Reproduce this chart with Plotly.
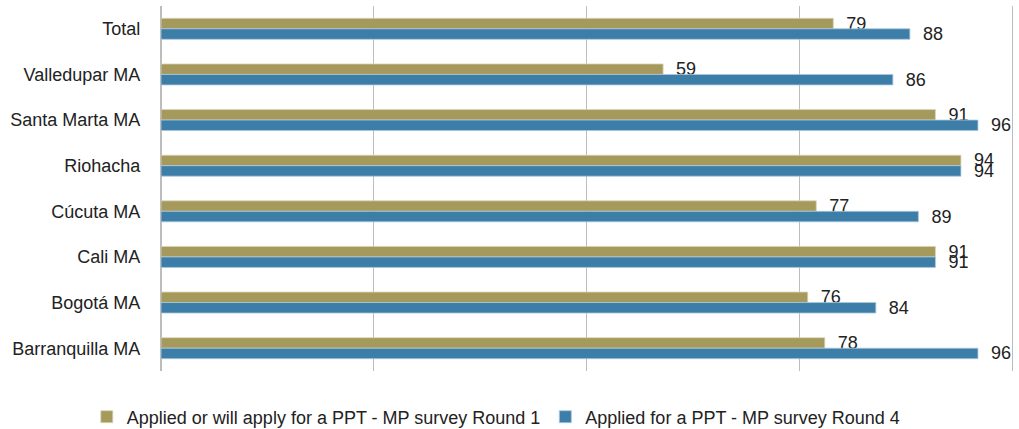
import plotly.graph_objects as go

# categories listed top to bottom
areas = [
    "Total",
    "Valledupar MA",
    "Santa Marta MA",
    "Riohacha",
    "Cúcuta MA",
    "Cali MA",
    "Bogotá MA",
    "Barranquilla MA",
]
round_1 = [79, 59, 91, 94, 77, 91, 76, 78]
round_4 = [88, 86, 96, 94, 89, 91, 84, 96]

names = [
    "Applied or will apply for a PPT - MP survey Round 1",
    "Applied for a PPT - MP survey Round 4",
]
colors = ["#A59A5C", "#3C7EA8"]
edge_colors = ["#D9D3B8", "#A9C8DC"]

font_family = "Liberation Sans, Arial, sans-serif"
text_color = "#222222"
grid_color = "#BDBDBD"

fig = go.Figure()

for values, name, color, edge in zip([round_1, round_4], names, colors, edge_colors):
    fig.add_trace(
        go.Bar(
            y=areas,
            x=values,
            name=name,
            orientation="h",
            marker=dict(color=color, line=dict(color=edge, width=0.8)),
            text=values,
            texttemplate="\u00a0\u00a0%{x}",
            textposition="outside",
            constraintext="none",
            cliponaxis=False,
            textfont=dict(size=18, color=text_color, family=font_family),
        )
    )

fig.update_xaxes(
    range=[0, 100],
    dtick=25,
    showticklabels=False,
    showgrid=True,
    gridcolor=grid_color,
    gridwidth=1.3,
    zeroline=True,
    zerolinecolor=grid_color,
    zerolinewidth=1.3,
    fixedrange=True,
)
# y axis line + mirror gives the left and right frame lines
fig.update_yaxes(
    autorange="reversed",
    automargin=False,
    ticklabelstandoff=16,
    tickfont=dict(size=18, color=text_color, family=font_family),
    showgrid=False,
    showline=True,
    mirror=True,
    linecolor=grid_color,
    linewidth=1.3,
    fixedrange=True,
)

fig.update_layout(
    width=1019,
    height=429,
    barmode="group",
    bargap=0.54,
    bargroupgap=0,
    plot_bgcolor="white",
    paper_bgcolor="white",
    margin=dict(l=161, r=7, t=6, b=58),
    font=dict(family=font_family, size=18, color=text_color),
    showlegend=True,
    legend=dict(
        orientation="h",
        x=0.394,
        xanchor="center",
        yref="container",
        y=0.028,
        yanchor="middle",
        font=dict(size=18, color=text_color),
        itemwidth=30,
        tracegroupgap=0,
    ),
)

# drop the default 8px body margin so the figure fills the window
fig.write_html(
    "out.html",
    config={"displayModeBar": False},
    post_script="document.body.style.margin='0';document.body.style.overflow='hidden';",
)
